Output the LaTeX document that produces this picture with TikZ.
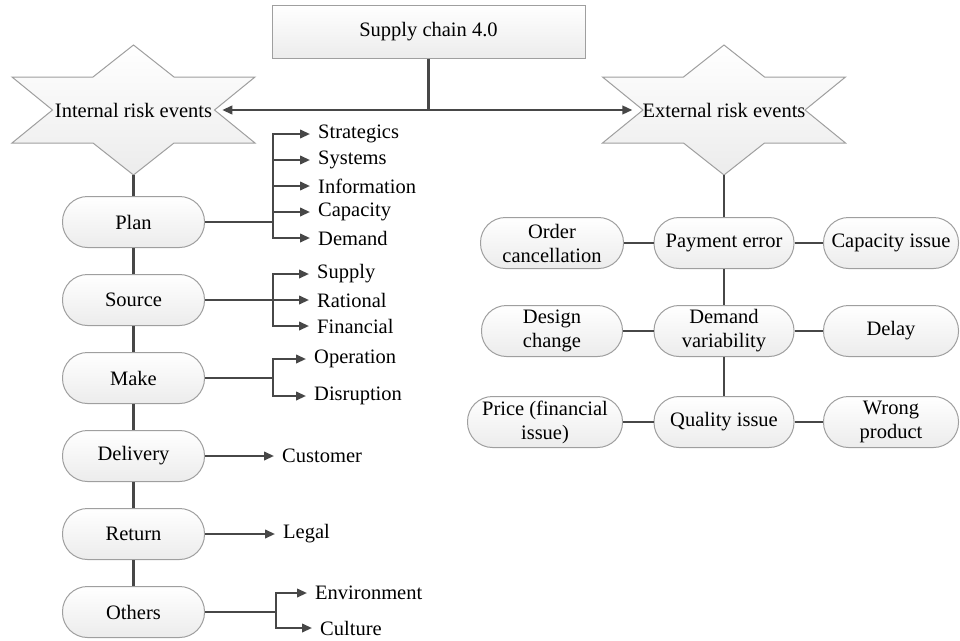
\documentclass[tikz,border=0pt]{standalone}
\usepackage{fontspec}
\setmainfont{Liberation Serif}
\usetikzlibrary{arrows.meta}

% six-pointed risk star: #1 centre, #2 name prefix
\newcommand{\riskstar}[2]{%
  \begin{scope}[shift={#1}]
    \draw[starfill] (0,-65) -- (40.5,-33) -- (121.5,-33) -- (81,0) -- (121.5,33) -- (40.5,33)
      -- (0,65) -- (-40.5,33) -- (-121.5,33) -- (-81,0) -- (-121.5,-33) -- (-40.5,-33) -- cycle;
    \coordinate (#2bot) at (0,65);
  \end{scope}}

\begin{document}
\begin{tikzpicture}[x=1pt,y=-1pt,font=\fontsize{20.5}{24}\selectfont]

    \tikzset{
      starfill/.style={
        draw=gray!75,
        line width=1pt,
        top color=white,
        bottom color=gray!15,
      },
      chainbox/.style={
        starfill,
        minimum width=313pt,
        minimum height=53pt,
      },
      riskpill/.style={
        starfill,
        rounded corners=25pt,
        minimum width=142pt,
        minimum height=51pt,
        inner sep=0pt,
        align=center,
      },
      link/.style={draw=black!72, line width=2.2pt},
      arr/.style={link, -{Triangle[length=10pt,width=8.5pt]}},
      leaf/.style={anchor=west, inner xsep=8pt, inner ysep=0pt},
    }
    \useasboundingbox (0,0) rectangle (960,640);

    \node[chainbox] (sc) at (428.5,31.5) {Supply chain 4.0};

    \riskstar{(133.5,110)}{intl}
    \riskstar{(724,110)}{ext}
    \node[inner xsep=10pt] (intl) at (133.5,110) {Internal risk events};
    \node[inner xsep=10pt] (ext) at (724,110) {External risk events};
    \draw[link] (sc.south) -- (sc.south |- intl.center) coordinate (hub);
    \draw[link, {Triangle[length=10pt,width=8.5pt]}-{Triangle[length=10pt,width=8.5pt]}] (intl.east) -- (ext.west);

    % internal side
    \node[riskpill] (plan) at (133.5,222) {Plan};
    \node[riskpill] (source) at (133.5,300) {Source};
    \node[riskpill] (make) at (133.5,378) {Make};
    \node[riskpill] (delivery) at (133.5,456) {Delivery};
    \node[riskpill] (return) at (133.5,534) {Return};
    \node[riskpill] (others) at (133.5,612) {Others};
    \draw[link] (intlbot) -- (plan.north);
    \draw[link] (plan) -- (source);
    \draw[link] (source) -- (make);
    \draw[link] (make) -- (delivery);
    \draw[link] (delivery) -- (return);
    \draw[link] (return) -- (others);

    \node[leaf] (strat) at (310,134) {Strategics};
    \node[leaf] (syst) at (310,160) {Systems};
    \node[leaf] (info) at (310,186) {Information};
    \node[leaf] (capa) at (310,212) {Capacity};
    \node[leaf] (dem) at (310,238) {Demand};
    \draw[link] (plan.east) -- (273,222) coordinate (planbus);
    \foreach \n in {strat,syst,info,capa,dem} \draw[arr] (planbus) |- (\n.west);

    \node[leaf] (supply) at (309,274) {Supply};
    \node[leaf] (rational) at (309,300) {Rational};
    \node[leaf] (financial) at (309,326) {Financial};
    \draw[link] (source.east) -- (273,300) coordinate (sourcebus);
    \foreach \n in {supply,rational,financial} \draw[arr] (sourcebus) |- (\n.west);

    \node[leaf] (operation) at (306,359) {Operation};
    \node[leaf] (disruption) at (306,396) {Disruption};
    \draw[link] (make.east) -- (273,378) coordinate (makebus);
    \foreach \n in {operation,disruption} \draw[arr] (makebus) |- (\n.west);

    \node[leaf] (customer) at (274,456) {Customer};
    \draw[arr] (delivery.east) -- (customer.west);
    \node[leaf] (legal) at (275,534) {Legal};
    \draw[arr] (return.east) -- (legal.west);

    \node[leaf] (environment) at (307,593) {Environment};
    \node[leaf] (culture) at (312,628) {Culture};
    \draw[link] (others.east) -- (276,612) coordinate (othersbus);
    \foreach \n in {environment,culture} \draw[arr] (othersbus) |- (\n.west);

    % external side
    \node[riskpill, minimum width=143pt] (order) at (552,243) {Order\\cancellation};
    \node[riskpill, minimum width=140pt] (payment) at (724,243) {Payment error};
    \node[riskpill, minimum width=135pt] (capissue) at (891,243) {Capacity issue};
    \node[riskpill, minimum width=141pt] (design) at (552,331) {Design\\change};
    \node[riskpill, minimum width=140pt] (demvar) at (724,331) {Demand\\variability};
    \node[riskpill, minimum width=135pt] (delay) at (891,331) {Delay};
    \node[riskpill, minimum width=155pt] (price) at (545,422) {Price (financial\\issue)};
    \node[riskpill, minimum width=140pt] (quality) at (724,422) {Quality issue};
    \node[riskpill, minimum width=135pt] (wrong) at (891,422) {Wrong\\product};
    \draw[link] (extbot) -- (payment.north);
    \draw[link] (payment) -- (demvar);
    \draw[link] (demvar) -- (quality);
    \draw[link] (order) -- (payment);
    \draw[link] (payment) -- (capissue);
    \draw[link] (design) -- (demvar);
    \draw[link] (demvar) -- (delay);
    \draw[link] (price) -- (quality);
    \draw[link] (quality) -- (wrong);

\end{tikzpicture}
\end{document}
